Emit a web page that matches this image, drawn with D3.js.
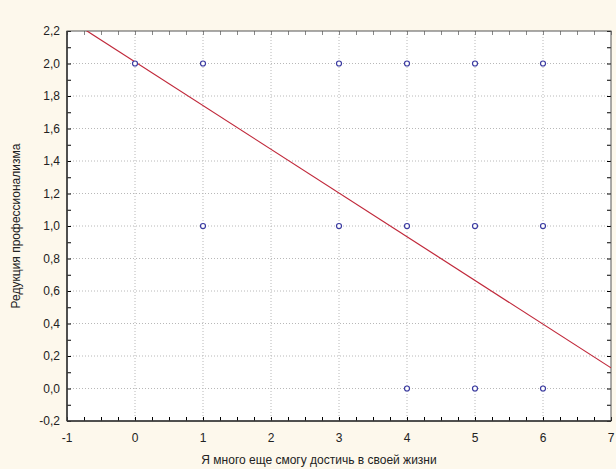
<!DOCTYPE html>
<html>
<head>
<meta charset="utf-8">
<script src="https://cdn.jsdelivr.net/npm/d3@7"></script>
<style>
  body { margin: 0; background: #fdf8ec; }
  text { font-family: "Liberation Sans", Arial, sans-serif; fill: #222; }
</style>
</head>
<body>
<div id="chart"></div>
<script>
// data
const pointX = [0, 1, 3, 4, 5, 6, 1, 3, 4, 5, 6, 4, 5, 6];
const pointY = [2, 2, 2, 2, 2, 2, 1, 1, 1, 1, 1, 0, 0, 0];
const fitIntercept = 2.01;
const fitSlope = -0.269;
const xTicks = [-1, 0, 1, 2, 3, 4, 5, 6, 7];
const yTicks = [-0.2, 0, 0.2, 0.4, 0.6, 0.8, 1.0, 1.2, 1.4, 1.6, 1.8, 2.0, 2.2];
const xTitle = "Я много еще смогу достичь в своей жизни";
const yTitle = "Редукция профессионализма";

const width = 616, height = 469;
const margin = { top: 31, right: 5, bottom: 48, left: 67 };

const svg = d3.select("#chart").append("svg")
  .attr("width", width)
  .attr("height", height);

const x = d3.scaleLinear().domain([-1, 7]).range([margin.left, width - margin.right]);
const y = d3.scaleLinear().domain([-0.2, 2.2]).range([height - margin.bottom, margin.top]);

const fmt = d => d3.format(".1f")(d).replace(".", ",").replace("−", "-");

// plot background
svg.append("rect")
  .attr("x", x(-1)).attr("y", y(2.2))
  .attr("width", x(7) - x(-1)).attr("height", y(-0.2) - y(2.2))
  .attr("fill", "#fff");

// grid
svg.append("g").selectAll("line")
  .data(xTicks.slice(1, -1))
  .join("line")
  .attr("x1", d => x(d)).attr("x2", d => x(d))
  .attr("y1", y(2.2)).attr("y2", y(-0.2))
  .attr("stroke", "#b8b8b8").attr("stroke-dasharray", "1,2");

svg.append("g").selectAll("line")
  .data(yTicks.slice(1, -1))
  .join("line")
  .attr("x1", x(-1)).attr("x2", x(7))
  .attr("y1", d => y(d)).attr("y2", d => y(d))
  .attr("stroke", "#b8b8b8").attr("stroke-dasharray", "1,2");

// minor ticks
const xMinor = d3.range(-1, 7.001, 0.25);
const yMinor = d3.range(-0.2, 2.201, 0.1);

svg.append("g").attr("transform", `translate(0,${y(-0.2)})`)
  .call(d3.axisBottom(x).tickValues(xMinor).tickSize(-4).tickFormat(""))
  .call(g => g.select(".domain").remove());
svg.append("g").attr("transform", `translate(0,${y(2.2)})`)
  .call(d3.axisTop(x).tickValues(xMinor).tickSize(-4).tickFormat(""))
  .call(g => g.select(".domain").remove())
  .call(g => g.selectAll("line").attr("stroke", "#888"));
svg.append("g").attr("transform", `translate(${x(-1)},0)`)
  .call(d3.axisLeft(y).tickValues(yMinor).tickSize(-4).tickFormat(""))
  .call(g => g.select(".domain").remove());
svg.append("g").attr("transform", `translate(${x(7)},0)`)
  .call(d3.axisRight(y).tickValues(yMinor).tickSize(-4).tickFormat(""))
  .call(g => g.select(".domain").remove());

// frame
svg.append("rect")
  .attr("x", x(-1)).attr("y", y(2.2))
  .attr("width", x(7) - x(-1)).attr("height", y(-0.2) - y(2.2))
  .attr("fill", "none").attr("stroke", "#555");
svg.append("line")
  .attr("x1", x(-1)).attr("x2", x(7))
  .attr("y1", y(-0.2)).attr("y2", y(-0.2))
  .attr("stroke", "#333").attr("stroke-width", 1.5);
svg.append("line")
  .attr("x1", x(-1)).attr("x2", x(-1))
  .attr("y1", y(2.2)).attr("y2", y(-0.2))
  .attr("stroke", "#333").attr("stroke-width", 1.5);

// tick labels
svg.append("g").selectAll("text")
  .data(xTicks)
  .join("text")
  .attr("x", d => x(d)).attr("y", y(-0.2) + 21)
  .attr("text-anchor", "middle")
  .attr("font-size", 12)
  .text(d => d);

svg.append("g").selectAll("text")
  .data(yTicks)
  .join("text")
  .attr("x", x(-1) - 7).attr("y", d => y(d) + 4)
  .attr("text-anchor", "end")
  .attr("font-size", 12)
  .text(d => fmt(d));

// titles
svg.append("text")
  .attr("x", (x(-1) + x(7)) / 2 - 20).attr("y", height - 5)
  .attr("text-anchor", "middle")
  .attr("font-size", 12)
  .text(xTitle);

svg.append("text")
  .attr("transform", `translate(20,${(y(-0.2) + y(2.2)) / 2}) rotate(-90)`)
  .attr("text-anchor", "middle")
  .attr("font-size", 12)
  .text(yTitle);

// regression line, clipped to the plot
svg.append("clipPath").attr("id", "clip")
  .append("rect")
  .attr("x", x(-1)).attr("y", y(2.2))
  .attr("width", x(7) - x(-1)).attr("height", y(-0.2) - y(2.2));

svg.append("line")
  .attr("clip-path", "url(#clip)")
  .attr("x1", x(-1)).attr("y1", y(fitIntercept + fitSlope * -1))
  .attr("x2", x(7)).attr("y2", y(fitIntercept + fitSlope * 7))
  .attr("stroke", "#c0283a").attr("stroke-width", 1.2);

// points
svg.append("g").selectAll("circle")
  .data(pointX.map((d, i) => [d, pointY[i]]))
  .join("circle")
  .attr("cx", d => x(d[0])).attr("cy", d => y(d[1]))
  .attr("r", 2.5)
  .attr("fill", "#fff")
  .attr("stroke", "#3a3aa0")
  .attr("stroke-width", 1.2);
</script>
</body>
</html>
